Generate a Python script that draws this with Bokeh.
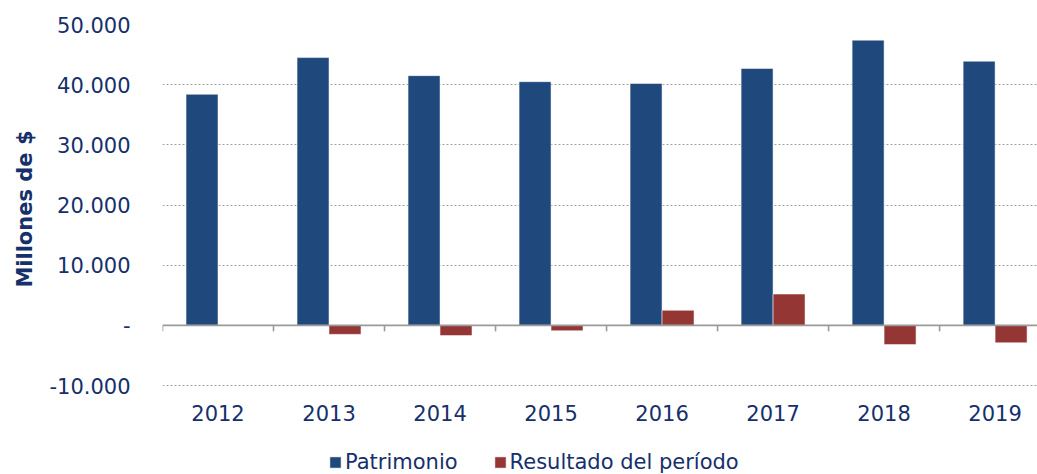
from bokeh.plotting import figure
from bokeh.models import (Range1d, FixedTicker, Span, ColumnDataSource, Legend,
                          LegendItem, Title)
from bokeh.core.properties import value
from bokeh.embed import file_html
from bokeh.resources import INLINE

years = ["2012", "2013", "2014", "2015", "2016", "2017", "2018", "2019"]
patrimonio = [38400, 44500, 41500, 40500, 40200, 42700, 47400, 43900]
resultado = [0, -1500, -1700, -900, 2500, 5200, -3200, -2900]
y_ticks = [-10000, 0, 10000, 20000, 30000, 40000, 50000]

BLUE = "#1F497D"
RED = "#943634"
TXT = "#15306B"
AXIS_GRAY = "#9a9a9a"
FONT = "DejaVu Sans"
BW = 0.288

idx = list(range(len(years)))
y_min = min(y_ticks)
src = ColumnDataSource(dict(
    x=idx,
    xb=[i - BW / 2 for i in idx],
    xr=[i + BW / 2 for i in idx],
    pat=patrimonio,
    res=resultado,
    ylab=[y_min] * len(idx),
    year=years,
))
bounds = [i - 0.5 for i in idx] + [len(years) - 0.5]
tick_src = ColumnDataSource(dict(x=bounds, y0=[0] * len(bounds), y1=[-1000] * len(bounds)))

# frame runs to the bottom of the page; the value axis spans 50.000 .. -10.000 over 361px
p = figure(frame_width=877, frame_height=450, output_backend="svg", toolbar_location=None,
           x_axis_location=None,
           x_range=Range1d(-0.5, 7.40), y_range=Range1d(-24792, 50000),
           min_border_left=160, min_border_top=24, min_border_right=0, min_border_bottom=0)
p.outline_line_color = None
p.background_fill_color = "white"
p.border_fill_color = "white"

r1 = p.vbar(x="xb", top="pat", bottom=0, width=BW, source=src, fill_color=BLUE,
            line_color="white", line_alpha=0.5, line_width=1)
r2 = p.vbar(x="xr", top="res", bottom=0, width=BW, source=src, fill_color=RED,
            line_color="white", line_alpha=0.5, line_width=1)

p.add_layout(Span(location=0, dimension="width", line_color=AXIS_GRAY, line_width=1.6))
p.segment(x0="x", y0="y0", x1="x", y1="y1", source=tick_src, line_color=AXIS_GRAY, line_width=1.6)

# category labels under the -10.000 gridline
p.text(x="x", y="ylab", text="year", source=src, text_align="center", text_baseline="middle",
       y_offset=27, text_font=value(FONT), text_font_size="21px", text_color=TXT)

# y axis
p.yaxis.ticker = FixedTicker(ticks=y_ticks)
p.yaxis.major_label_overrides = {t: ("-" if t == 0 else f"{t:,}".replace(",", ".")) for t in y_ticks}
p.yaxis.axis_line_color = None
p.yaxis.major_tick_line_color = None
p.yaxis.minor_tick_line_color = None
p.yaxis.major_label_text_font = FONT
p.yaxis.major_label_text_font_size = "21px"
p.yaxis.major_label_text_color = TXT
p.yaxis.major_label_standoff = 26

ytitle = Title(text="Millones de $", align="right", offset=106, standoff=20,
               text_font=FONT, text_font_size="21px", text_font_style="bold",
               text_color=TXT)
p.add_layout(ytitle, "left")

# grid
p.xgrid.grid_line_color = None
p.ygrid.ticker = FixedTicker(ticks=[t for t in y_ticks if t != 0])
p.ygrid.grid_line_color = "#a0a0a0"
p.ygrid.grid_line_dash = "2 2"
p.ygrid.grid_line_width = 1.2

# legend at the bottom of the frame
leg = Legend(items=[LegendItem(label="Patrimonio", renderers=[r1]),
                    LegendItem(label="Resultado del período", renderers=[r2])],
             orientation="horizontal", location=(166, 0))
leg.border_line_color = None
leg.background_fill_alpha = 0
leg.label_text_font = FONT
leg.label_text_font_size = "21px"
leg.label_text_color = TXT
leg.glyph_width = 14
leg.glyph_height = 14
leg.label_standoff = 3
leg.spacing = 35
leg.padding = 0
leg.margin = 0
p.add_layout(leg, "center")

open("out.html", "w").write(file_html(p, INLINE))
